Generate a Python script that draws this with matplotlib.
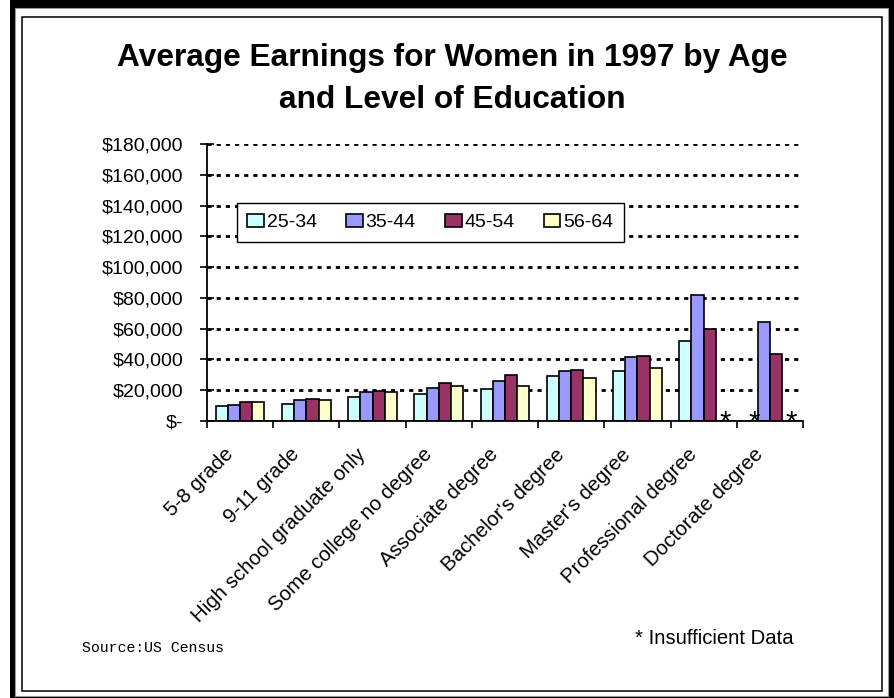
import matplotlib
matplotlib.use('Agg')
import matplotlib.pyplot as plt
from matplotlib.patches import Rectangle
from matplotlib.ticker import FuncFormatter
from matplotlib.transforms import ScaledTranslation
import numpy as np

plt.rcParams['font.family'] = ['Liberation Sans', 'DejaVu Sans']

# data (None = insufficient data, shown as *)
categories = ['5-8 grade', '9-11 grade', 'High school graduate only',
              'Some college no degree', 'Associate degree', "Bachelor's degree",
              "Master's degree", 'Professional degree', 'Doctorate degree']
age_groups = ['25-34', '35-44', '45-54', '56-64']
age_25_34 = [9500, 11300, 15600, 17500, 20800, 29000, 32300, 52000, None]
age_35_44 = [10400, 13400, 18700, 21700, 26000, 32300, 41600, 82200, 64400]
age_45_54 = [12600, 14600, 19500, 25000, 30200, 33400, 42500, 60100, 43800]
age_56_64 = [12400, 13400, 18700, 22800, 22800, 28200, 34300, None, None]
series = [age_25_34, age_35_44, age_45_54, age_56_64]
colors = ['#CCFFFF', '#9999FF', '#993366', '#FFFFCC']
yticks = np.arange(0, 180001, 20000)

W, H = 894, 698
fig = plt.figure(figsize=(W / 100, H / 100), dpi=100)

# frame around the chart (shadow-like black border + thin inner box)
fig.patches.append(Rectangle((10 / W, 0), 884 / W, 1, transform=fig.transFigure,
                             facecolor='black', edgecolor='none', zorder=-3))
fig.patches.append(Rectangle((15 / W, 1 - 696 / H), 873 / W, 688 / H, transform=fig.transFigure,
                             facecolor='white', edgecolor='#999999', lw=0.8, zorder=-2))
fig.patches.append(Rectangle((22 / W, 1 - 691 / H), 860 / W, 674 / H, transform=fig.transFigure,
                             facecolor='none', edgecolor='black', lw=1.1, zorder=-1))

ax = fig.add_axes([207 / W, 1 - 421 / H, 596 / W, 277 / H])
ax.set_facecolor('none')
ax.set_zorder(2)

x = np.arange(len(categories))
bw = 0.184
for k, (vals, col, lab) in enumerate(zip(series, colors, age_groups)):
    xs = x + (k - 1.5) * bw
    heights = [v if v is not None else 0 for v in vals]
    ax.bar(xs, heights, width=bw, color=col, edgecolor='black', linewidth=1.2,
           label=lab, zorder=3)
    for xi, v in zip(xs, vals):
        if v is None:
            ax.annotate('*', (xi, 0), xytext=(2, -7), textcoords='offset points',
                        ha='center', va='baseline', fontsize=21, zorder=4)

ax.set_xlim(-0.5, len(categories) - 0.5)
ax.set_ylim(0, 180000)
ax.set_yticks(yticks)
ax.yaxis.set_major_formatter(FuncFormatter(lambda v, p: '$-' if v == 0 else '${:,.0f}'.format(v)))
ax.tick_params(axis='y', direction='inout', length=10, width=1.2, labelsize=14, pad=12)

ax.set_xticks(x)
ax.set_xticklabels(categories, rotation=45, ha='right', va='center', rotation_mode='anchor', fontsize=14.8)
ax.set_xticks(np.arange(len(categories) + 1) - 0.5, minor=True)
ax.tick_params(axis='x', which='major', length=0, pad=22)
ax.tick_params(axis='x', which='minor', direction='out', length=5, width=1.2)
shift = ScaledTranslation(-10 / 100, 0, fig.dpi_scale_trans)
for lbl in ax.get_xticklabels():
    lbl.set_transform(lbl.get_transform() + shift)

ax.yaxis.grid(True, linestyle=(0, (1.5, 1.8)), color='black', linewidth=2.0)
ax.set_axisbelow(True)
for s in ['top', 'right']:
    ax.spines[s].set_visible(False)
for s in ['left', 'bottom']:
    ax.spines[s].set_linewidth(1.3)
    ax.spines[s].set_zorder(5)

leg = ax.legend(ncol=4, loc='upper left', bbox_to_anchor=(0.05, 0.787), borderaxespad=0,
                fontsize=14, frameon=True, fancybox=False, handlelength=0.85, handleheight=0.7,
                handletextpad=0.15, columnspacing=1.5, borderpad=0.55)
leg.get_frame().set_edgecolor('black')
leg.get_frame().set_linewidth(1.0)
leg.get_frame().set_alpha(1)

fig.text(452 / W, 1 - 79 / H, 'Average Earnings for Women in 1997 by Age\nand Level of Education',
         ha='center', va='center', fontsize=22.8, fontweight='bold', linespacing=1.55)
fig.text(635 / W, 1 - 638 / H, '* Insufficient Data', ha='left', va='center', fontsize=14.6)
fig.text(82 / W, 1 - 648 / H, 'Source:US Census', ha='left', va='center', fontsize=10.7,
         family='Liberation Mono')

fig.savefig('out.png', dpi=100)
